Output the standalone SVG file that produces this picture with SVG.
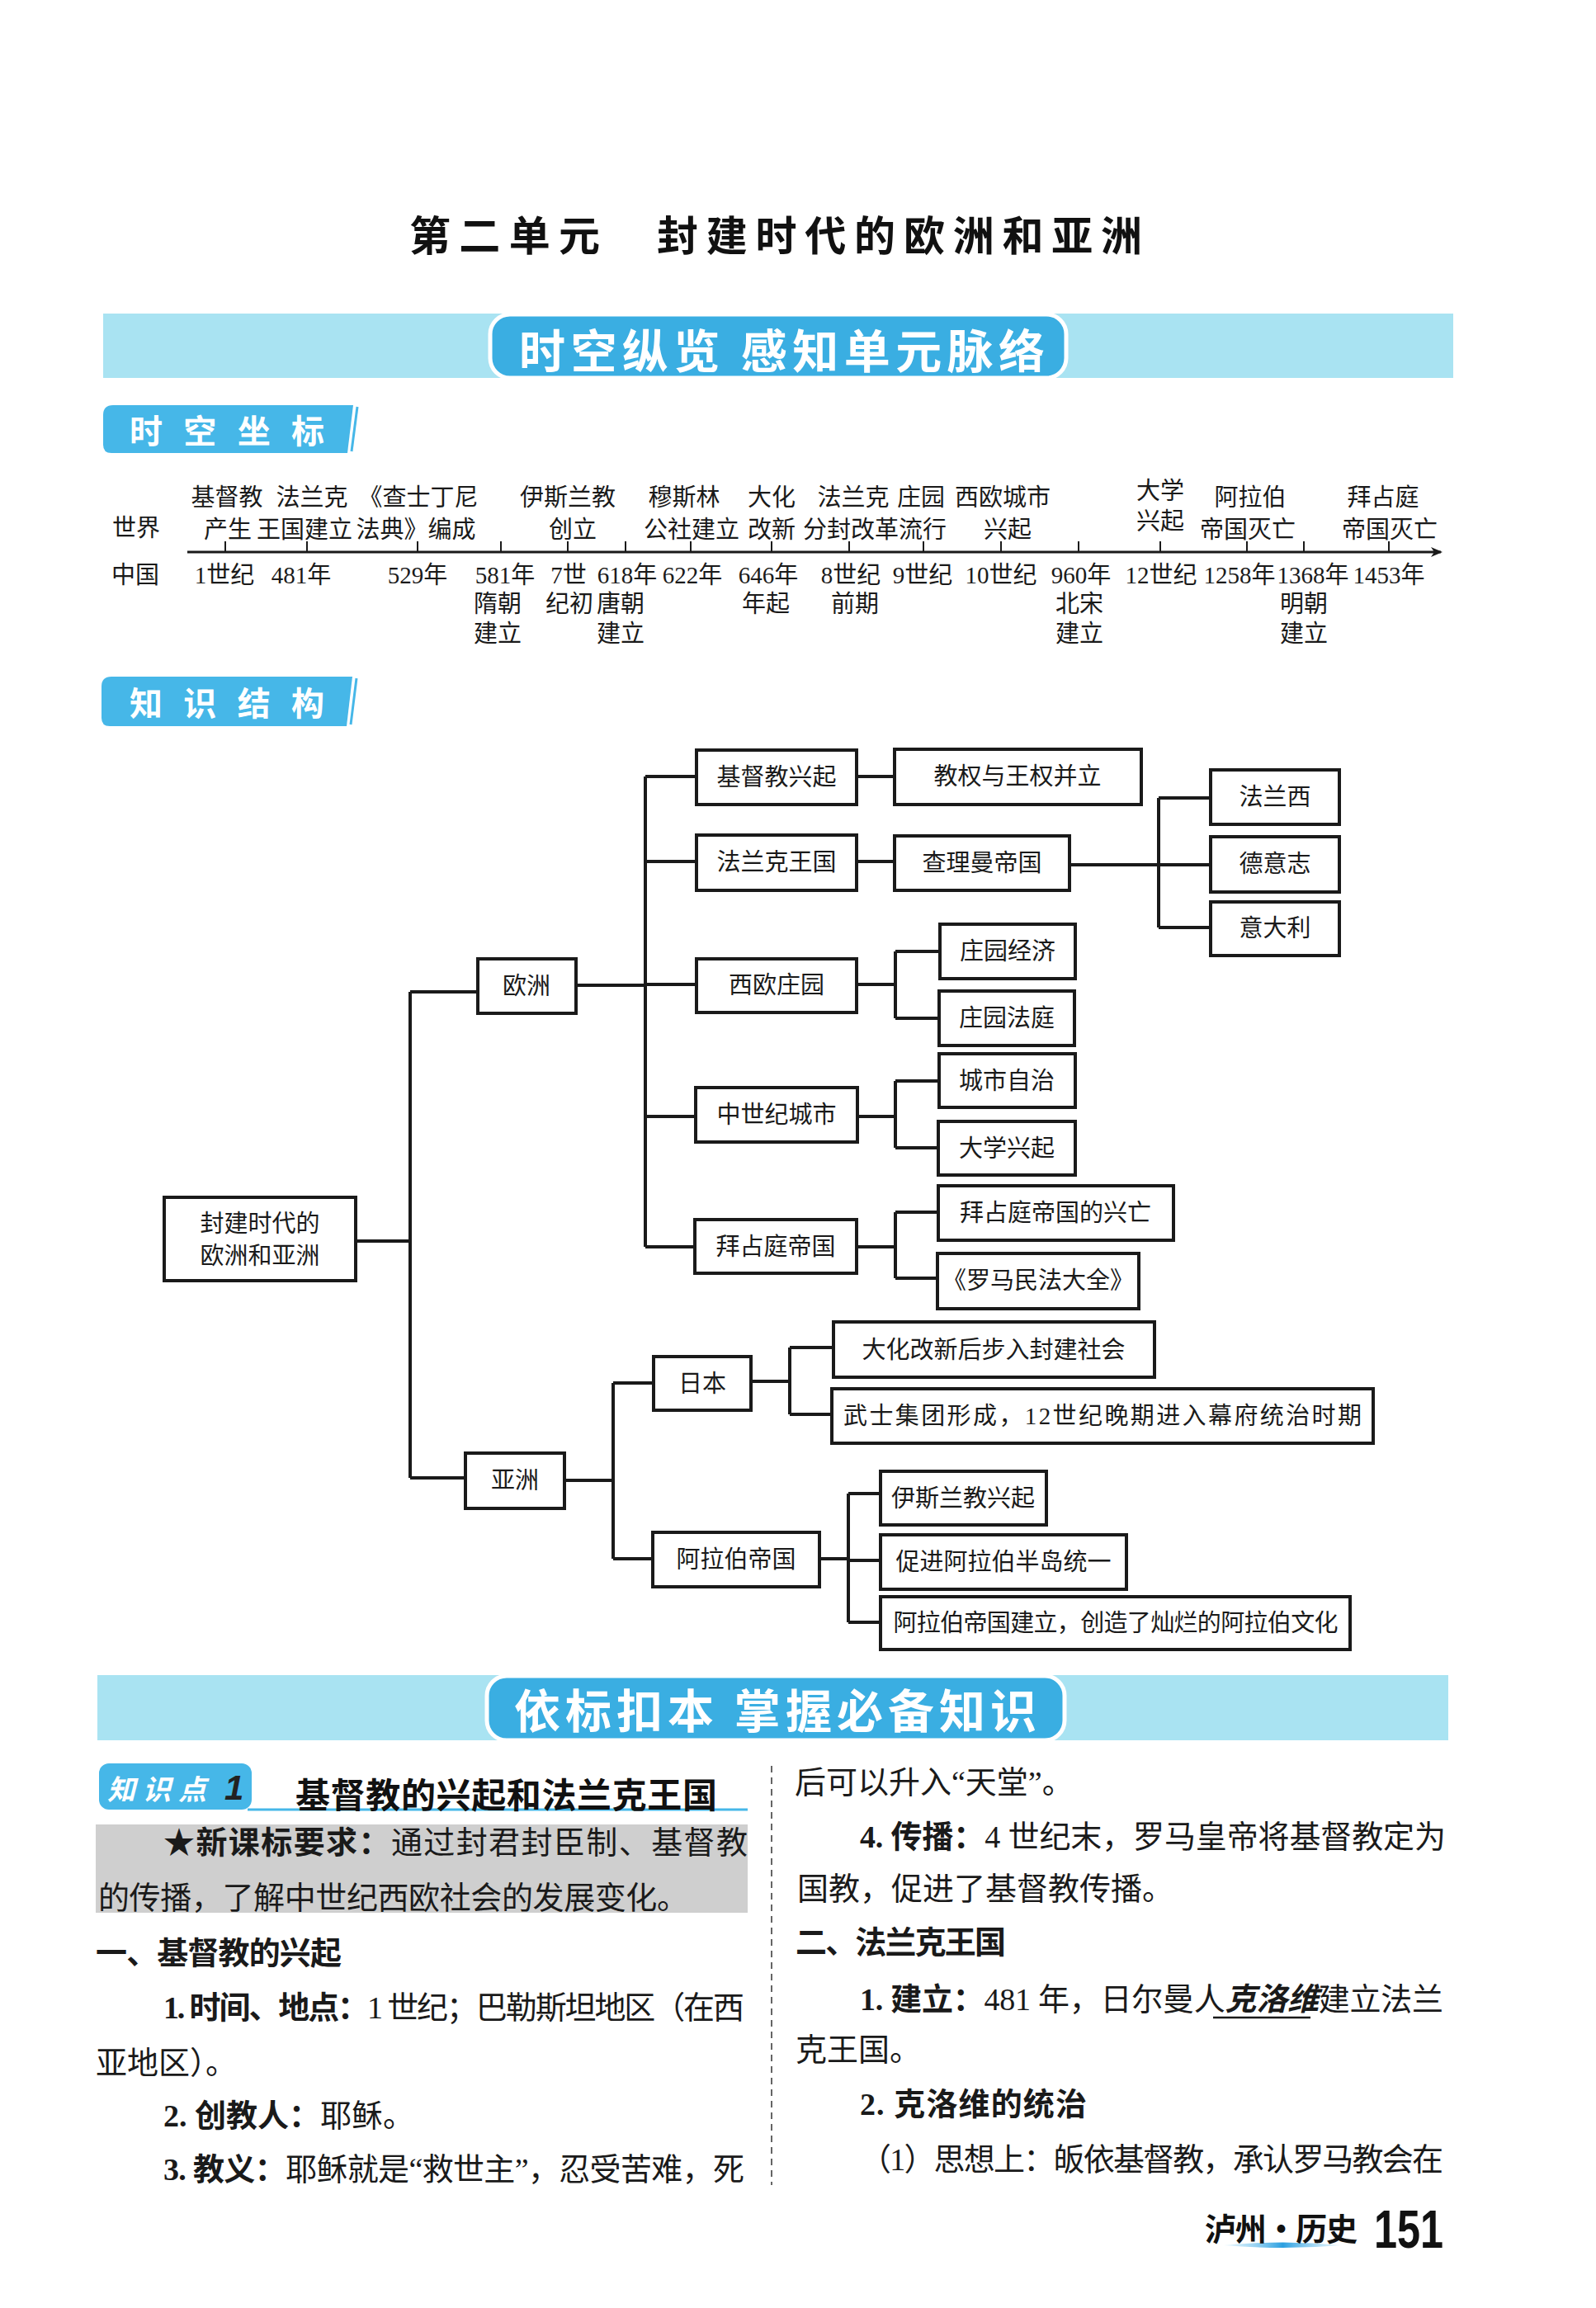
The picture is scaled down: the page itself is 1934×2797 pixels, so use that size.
<svg xmlns="http://www.w3.org/2000/svg" width="1934" height="2797" viewBox="0 0 1934 2797">
<defs>
<style>
.t{font-family:"Liberation Serif","Noto Sans CJK SC",serif;fill:#1a1a1a}
.tl{font-size:29px;text-anchor:middle;dominant-baseline:central}
.bx{fill:#fff;stroke:#1a1a1a;stroke-width:4}
.bt{font-size:29px;text-anchor:middle;dominant-baseline:central}
.ln{fill:none;stroke:#1a1a1a;stroke-width:4}
.body{font-size:38px;dominant-baseline:central}
.b{font-weight:700}
.h{font-family:"Noto Sans CJK SC",sans-serif;font-weight:700}
.band{fill:#a9e3f2}
.pill{fill:#3aaee2;stroke:#fff;stroke-width:5}
.tag{fill:#46b7e8}
</style>
<marker id="arr" markerWidth="14" markerHeight="12" refX="12" refY="6" orient="auto" markerUnits="userSpaceOnUse">
<path d="M0,0 L14,6 L0,12 L4,6 Z" fill="#1a1a1a"/>
</marker>
<linearGradient id="sw" x1="0" x2="1" y1="0" y2="0">
<stop offset="0" stop-color="#8fd3f5" stop-opacity="0.2"/>
<stop offset="0.5" stop-color="#2b9fe0"/>
<stop offset="1" stop-color="#8fd3f5" stop-opacity="0.2"/>
</linearGradient>
</defs>
<rect width="1934" height="2797" fill="#fff"/>

<!-- Title -->
<g id="title">
<text class="h" x="496" y="282" font-size="50" dominant-baseline="central" textLength="231" lengthAdjust="spacing" fill="#111">第二单元</text>
<text class="h" x="796" y="282" font-size="50" dominant-baseline="central" textLength="588" lengthAdjust="spacing" fill="#111">封建时代的欧洲和亚洲</text>
</g>

<!-- Banner 1 -->
<g id="banner1">
<rect class="band" x="125" y="380" width="1636" height="78"/>
<rect class="pill" x="594" y="381" width="698" height="77" rx="24"/>
<text class="h" x="629" y="421" font-size="56" fill="#fff" dominant-baseline="central" textLength="637" lengthAdjust="spacing">时空纵览 感知单元脉络</text>
</g>

<!-- Tag 时空坐标 -->
<g id="tag-shikong">
<path class="tag" d="M137,491 L428,491 L421,549 L135,549 Q125,549 125,539 L125,503 Q125,491 137,491 Z"/>
<path d="M433,493 L426,547" stroke="#46b7e8" stroke-width="3" fill="none"/>
<text class="h" x="157" y="520" font-size="40" fill="#fff" dominant-baseline="central" textLength="236" lengthAdjust="spacing">时空坐标</text>
</g>

<!-- Timeline -->
<g id="timeline">
<line x1="227" y1="669" x2="1746" y2="669" stroke="#1a1a1a" stroke-width="3" marker-end="url(#arr)"/>
<g stroke="#1a1a1a" stroke-width="2">
<line x1="273" y1="656" x2="273" y2="669"/><line x1="372" y1="656" x2="372" y2="669"/>
<line x1="506" y1="656" x2="506" y2="669"/><line x1="607" y1="656" x2="607" y2="669"/>
<line x1="688" y1="656" x2="688" y2="669"/><line x1="758" y1="656" x2="758" y2="669"/>
<line x1="837" y1="656" x2="837" y2="669"/><line x1="935" y1="656" x2="935" y2="669"/>
<line x1="1029" y1="656" x2="1029" y2="669"/><line x1="1119" y1="656" x2="1119" y2="669"/>
<line x1="1213" y1="656" x2="1213" y2="669"/><line x1="1307" y1="656" x2="1307" y2="669"/>
<line x1="1406" y1="656" x2="1406" y2="669"/><line x1="1511" y1="656" x2="1511" y2="669"/>
<line x1="1580" y1="656" x2="1580" y2="669"/><line x1="1683" y1="656" x2="1683" y2="669"/>
</g>
<text class="t tl" x="165" y="640">世界</text>
<text class="t tl" x="164" y="697">中国</text>
<!-- world labels -->
<text class="t tl" x="275" y="603">基督教</text><text class="t tl" x="276" y="642">产生</text>
<text class="t tl" x="378" y="603">法兰克</text><text class="t tl" x="369" y="642">王国建立</text>
<text class="t tl" x="507" y="603">《查士丁尼</text><text class="t tl" x="504" y="642">法典》编成</text>
<text class="t tl" x="688" y="603">伊斯兰教</text><text class="t tl" x="694" y="642">创立</text>
<text class="t tl" x="829" y="603">穆斯林</text><text class="t tl" x="838" y="642">公社建立</text>
<text class="t tl" x="935" y="603">大化</text><text class="t tl" x="935" y="642">改新</text>
<text class="t tl" x="1034" y="603">法兰克</text><text class="t tl" x="1116" y="603">庄园</text>
<text class="t tl" x="1060" y="642">分封改革流行</text>
<text class="t tl" x="1215" y="603">西欧城市</text><text class="t tl" x="1221" y="642">兴起</text>
<text class="t tl" x="1406" y="595">大学</text><text class="t tl" x="1406" y="632">兴起</text>
<text class="t tl" x="1515" y="603">阿拉伯</text><text class="t tl" x="1512" y="642">帝国灭亡</text>
<text class="t tl" x="1676" y="603">拜占庭</text><text class="t tl" x="1684" y="642">帝国灭亡</text>
<!-- china labels -->
<text class="t tl" x="272" y="697">1世纪</text>
<text class="t tl" x="365" y="697">481年</text>
<text class="t tl" x="506" y="697">529年</text>
<text class="t tl" x="612" y="697">581年</text><text class="t tl" x="603" y="732">隋朝</text><text class="t tl" x="603" y="768">建立</text>
<text class="t tl" x="689" y="697">7世</text><text class="t tl" x="690" y="732">纪初</text>
<text class="t tl" x="760" y="697">618年</text><text class="t tl" x="752" y="732">唐朝</text><text class="t tl" x="752" y="768">建立</text>
<text class="t tl" x="839" y="697">622年</text>
<text class="t tl" x="931" y="697">646年</text><text class="t tl" x="928" y="732">年起</text>
<text class="t tl" x="1031" y="697">8世纪</text><text class="t tl" x="1036" y="732">前期</text>
<text class="t tl" x="1118" y="697">9世纪</text>
<text class="t tl" x="1213" y="697">10世纪</text>
<text class="t tl" x="1310" y="697">960年</text><text class="t tl" x="1308" y="732">北宋</text><text class="t tl" x="1308" y="768">建立</text>
<text class="t tl" x="1407" y="697">12世纪</text>
<text class="t tl" x="1502" y="697">1258年</text>
<text class="t tl" x="1591" y="697">1368年</text><text class="t tl" x="1580" y="732">明朝</text><text class="t tl" x="1580" y="768">建立</text>
<text class="t tl" x="1683" y="697">1453年</text>
</g>

<!-- Tag 知识结构 -->
<g id="tag-zhishi">
<path class="tag" d="M135,820 L427,820 L420,880 L133,880 Q123,880 123,870 L123,832 Q123,820 135,820 Z"/>
<path d="M432,822 L425,878" stroke="#46b7e8" stroke-width="3" fill="none"/>
<text class="h" x="157" y="850" font-size="40" fill="#fff" dominant-baseline="central" textLength="236" lengthAdjust="spacing">知识结构</text>
</g>

<!-- Connectors -->
<g id="connectors">
<path class="ln" d="M431,1504 H497 M497,1202 V1791 M497,1202 H579 M497,1791 H564"/>
<path class="ln" d="M698,1194 H782 M782,941 V1511 M782,941 H844 M782,1044 H844 M782,1193 H844 M782,1353 H843 M782,1511 H842"/>
<path class="ln" d="M1038,941 H1084 M1038,1044 H1084"/>
<path class="ln" d="M1296,1048 H1467 M1404,967 V1124 M1404,967 H1467 M1404,1124 H1467"/>
<path class="ln" d="M1038,1193 H1085 M1085,1153 V1234 M1085,1153 H1139 M1085,1234 H1138"/>
<path class="ln" d="M1039,1353 H1085 M1085,1310 V1391 M1085,1310 H1138 M1085,1391 H1137"/>
<path class="ln" d="M1038,1511 H1085 M1085,1469 V1549 M1085,1469 H1137 M1085,1549 H1136"/>
<path class="ln" d="M685,1794 H743 M743,1676 V1889 M743,1676 H792 M743,1889 H791"/>
<path class="ln" d="M910,1674 H957 M957,1633 V1714 M957,1633 H1010 M957,1714 H1008"/>
<path class="ln" d="M993,1889 H1028 M1028,1810 V1966 M1028,1810 H1067 M1028,1891 H1067 M1028,1966 H1067"/>
</g>

<!-- Nodes -->
<g id="n-root"><rect class="bx" x="199" y="1451" width="232" height="101"/>
<text class="t bt" x="315" y="1483">封建时代的</text><text class="t bt" x="315" y="1522">欧洲和亚洲</text></g>
<g id="n-ouzhou"><rect class="bx" x="579" y="1162" width="119" height="66"/><text class="t bt" x="638" y="1195">欧洲</text></g>
<g id="n-yazhou"><rect class="bx" x="564" y="1761" width="120" height="67"/><text class="t bt" x="624" y="1794">亚洲</text></g>
<g id="n-jidujiao"><rect class="bx" x="844" y="909" width="194" height="66"/><text class="t bt" x="941" y="942">基督教兴起</text></g>
<g id="n-jiaoquan"><rect class="bx" x="1084" y="908" width="299" height="67"/><text class="t bt" x="1233" y="941">教权与王权并立</text></g>
<g id="n-falanke"><rect class="bx" x="844" y="1012" width="194" height="67"/><text class="t bt" x="941" y="1045">法兰克王国</text></g>
<g id="n-chaliman"><rect class="bx" x="1084" y="1013" width="212" height="66"/><text class="t bt" x="1190" y="1046">查理曼帝国</text></g>
<g id="n-faguo"><rect class="bx" x="1467" y="933" width="156" height="66"/><text class="t bt" x="1545" y="966">法兰西</text></g>
<g id="n-deyizhi"><rect class="bx" x="1467" y="1014" width="156" height="67"/><text class="t bt" x="1545" y="1047">德意志</text></g>
<g id="n-yidali"><rect class="bx" x="1467" y="1093" width="156" height="65"/><text class="t bt" x="1545" y="1125">意大利</text></g>
<g id="n-xiouzhuangyuan"><rect class="bx" x="844" y="1162" width="194" height="65"/><text class="t bt" x="941" y="1194">西欧庄园</text></g>
<g id="n-zyjingji"><rect class="bx" x="1139" y="1120" width="164" height="66"/><text class="t bt" x="1221" y="1153">庄园经济</text></g>
<g id="n-zyfating"><rect class="bx" x="1138" y="1201" width="164" height="66"/><text class="t bt" x="1220" y="1234">庄园法庭</text></g>
<g id="n-zhongshiji"><rect class="bx" x="843" y="1318" width="196" height="66"/><text class="t bt" x="941" y="1351">中世纪城市</text></g>
<g id="n-chengshizizhi"><rect class="bx" x="1138" y="1277" width="165" height="65"/><text class="t bt" x="1220" y="1310">城市自治</text></g>
<g id="n-daxue"><rect class="bx" x="1137" y="1359" width="166" height="65"/><text class="t bt" x="1220" y="1392">大学兴起</text></g>
<g id="n-baizhanting"><rect class="bx" x="842" y="1478" width="196" height="65"/><text class="t bt" x="940" y="1511">拜占庭帝国</text></g>
<g id="n-xingwang"><rect class="bx" x="1137" y="1437" width="285" height="66"/><text class="t bt" x="1279" y="1470">拜占庭帝国的兴亡</text></g>
<g id="n-luoma"><rect class="bx" x="1136" y="1519" width="244" height="67"/><text class="t bt" x="1258" y="1552">《罗马民法大全》</text></g>
<g id="n-riben"><rect class="bx" x="792" y="1644" width="118" height="65"/><text class="t bt" x="851" y="1677">日本</text></g>
<g id="n-dahua"><rect class="bx" x="1010" y="1602" width="389" height="67"/><text class="t bt" x="1204" y="1636">大化改新后步入封建社会</text></g>
<g id="n-wushi"><rect class="bx" x="1008" y="1683" width="656" height="66"/><text class="t bt" x="1336" y="1716" textLength="628" lengthAdjust="spacing">武士集团形成，12世纪晚期进入幕府统治时期</text></g>
<g id="n-alabo"><rect class="bx" x="791" y="1857" width="202" height="66"/><text class="t bt" x="892" y="1890">阿拉伯帝国</text></g>
<g id="n-yisilan"><rect class="bx" x="1067" y="1783" width="201" height="65"/><text class="t bt" x="1167" y="1816">伊斯兰教兴起</text></g>
<g id="n-cujin"><rect class="bx" x="1067" y="1860" width="298" height="66"/><text class="t bt" x="1216" y="1893">促进阿拉伯半岛统一</text></g>
<g id="n-alabojianli"><rect class="bx" x="1067" y="1935" width="569" height="64"/><text class="t bt" x="1352" y="1967" textLength="539" lengthAdjust="spacing">阿拉伯帝国建立，创造了灿烂的阿拉伯文化</text></g>

<!-- Banner 2 -->
<g id="banner2">
<rect class="band" x="118" y="2030" width="1637" height="79"/>
<rect class="pill" x="590" y="2031" width="700" height="78" rx="24"/>
<text class="h" x="623" y="2069" font-size="56" fill="#fff" dominant-baseline="central" textLength="633" lengthAdjust="spacing">依标扣本 掌握必备知识</text>
</g>

<!-- Knowledge point 1 -->
<g id="kp1">
<line x1="300" y1="2193" x2="906" y2="2193" stroke="#46b7e8" stroke-width="3"/>
<rect class="tag" x="120" y="2137" width="185" height="56" rx="12"/>
<text x="130" y="2166" font-family="Noto Sans CJK SC,sans-serif" font-size="34" font-style="italic" font-weight="700" fill="#fff" dominant-baseline="central" textLength="120" lengthAdjust="spacing">知识点</text>
<text x="272" y="2166" font-family="Liberation Sans,sans-serif" font-size="42" font-style="italic" font-weight="700" fill="#222" dominant-baseline="central">1</text>
<text class="h" x="358" y="2172" font-size="42" fill="#111" dominant-baseline="central" textLength="511" lengthAdjust="spacing">基督教的兴起和法兰克王国</text>
</g>

<!-- Left column -->
<g id="left-col">
<rect x="116" y="2211" width="790" height="107" fill="#cfcfcf"/>
<text class="t body" x="198" y="2233" textLength="708" lengthAdjust="spacing"><tspan class="b">★新课标要求：</tspan>通过封君封臣制、基督教</text>
<text class="t body" x="119" y="2300" textLength="715" lengthAdjust="spacing">的传播，了解中世纪西欧社会的发展变化。</text>
<text class="t body b" x="116" y="2367" textLength="298" lengthAdjust="spacing">一、基督教的兴起</text>
<text class="t body" x="198" y="2433" textLength="704" lengthAdjust="spacing"><tspan class="b">1. 时间、地点：</tspan>1 世纪；巴勒斯坦地区（在西</text>
<text class="t body" x="116" y="2500">亚地区）。</text>
<text class="t body" x="198" y="2564"><tspan class="b">2. 创教人：</tspan>耶稣。</text>
<text class="t body" x="198" y="2629" textLength="704" lengthAdjust="spacing"><tspan class="b">3. 教义：</tspan>耶稣就是“救世主”，忍受苦难，死</text>
</g>

<line id="separator" x1="935" y1="2140" x2="935" y2="2648" stroke="#333" stroke-width="1.5" stroke-dasharray="8 6"/>

<!-- Right column -->
<g id="right-col">
<text class="t body" x="963" y="2160">后可以升入“天堂”。</text>
<text class="t body" x="1042" y="2226" textLength="710" lengthAdjust="spacing"><tspan class="b">4. 传播：</tspan>4 世纪末，罗马皇帝将基督教定为</text>
<text class="t body" x="966" y="2289">国教，促进了基督教传播。</text>
<text class="t body b" x="964" y="2354" textLength="255" lengthAdjust="spacing">二、法兰克王国</text>
<text class="t body" x="1042" y="2423" textLength="707" lengthAdjust="spacing"><tspan class="b">1. 建立：</tspan>481 年，日尔曼人<tspan font-weight="700" font-style="italic">克洛维</tspan>建立法兰</text>
<line x1="1470" y1="2445" x2="1588" y2="2445" stroke="#1a1a1a" stroke-width="2.5"/>
<text class="t body" x="964" y="2484">克王国。</text>
<text class="t body b" x="1042" y="2550" textLength="275" lengthAdjust="spacing">2. 克洛维的统治</text>
<text class="t body" x="1042" y="2617" textLength="707" lengthAdjust="spacing">（1）思想上：皈依基督教，承认罗马教会在</text>
</g>

<!-- Footer -->
<g id="footer">
<path d="M1483,2721 Q1555,2714 1626,2721 Q1555,2727 1483,2721 Z" fill="url(#sw)"/>
<text class="h" x="1460" y="2698" font-size="38" fill="#111" dominant-baseline="central" textLength="185" lengthAdjust="spacing">泸州·历史</text>
<text x="1665" y="2724" font-family="Liberation Sans,sans-serif" font-weight="700" font-size="64" fill="#111" textLength="84" lengthAdjust="spacingAndGlyphs">151</text>
</g>
</svg>
